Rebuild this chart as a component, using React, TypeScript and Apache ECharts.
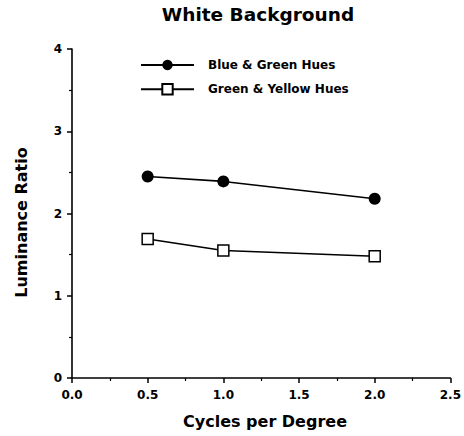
import React, { useEffect, useRef } from "react";
import * as echarts from "echarts";

const FONT = "'DejaVu Sans', 'Liberation Sans', sans-serif";

const cycles = [0.5, 1.0, 2.0];
const blueGreen = [2.45, 2.39, 2.18];
const greenYellow = [1.69, 1.55, 1.48];
const seriesNames = ["Blue & Green Hues", "Green & Yellow Hues"];

const pairs = (xs: number[], ys: number[]) => xs.map((x, i) => [x, ys[i]]);

export default function App() {
  const ref = useRef<HTMLDivElement>(null);

  useEffect(() => {
    if (!ref.current) return;
    const chart = echarts.init(ref.current, null, { renderer: "svg" });
    chart.setOption({
      animation: false,
      backgroundColor: "#ffffff",
      textStyle: { fontFamily: FONT },
      grid: { left: 72, right: 13, top: 49, bottom: 58 },
      legend: {
        orient: "vertical",
        left: 135,
        top: 54,
        itemWidth: 53,
        itemHeight: 13,
        itemGap: 12,
        textStyle: {
          fontFamily: FONT,
          fontWeight: "bold",
          fontSize: 12,
          color: "#000",
          padding: [0, 0, 0, 9],
        },
        data: seriesNames,
      },
      xAxis: {
        type: "value",
        min: 0,
        max: 2.5,
        interval: 0.5,
        axisLine: { show: true, lineStyle: { color: "#000", width: 1.6 } },
        axisTick: { show: true, inside: false, length: 5, lineStyle: { color: "#000", width: 1.5 } },
        minorTick: { show: true, splitNumber: 2, length: 3, lineStyle: { color: "#000", width: 1.2 } },
        splitLine: { show: false },
        axisLabel: {
          margin: 11,
          color: "#000",
          fontFamily: FONT,
          fontWeight: "bold",
          fontSize: 12,
          formatter: (v: number) => v.toFixed(1),
        },
      },
      yAxis: {
        type: "value",
        min: 0,
        max: 4,
        interval: 1,
        axisLine: { show: true, lineStyle: { color: "#000", width: 1.6 } },
        axisTick: { show: true, inside: false, length: 5, lineStyle: { color: "#000", width: 1.5 } },
        minorTick: { show: true, splitNumber: 2, length: 3, lineStyle: { color: "#000", width: 1.2 } },
        splitLine: { show: false },
        axisLabel: {
          margin: 10,
          color: "#000",
          fontFamily: FONT,
          fontWeight: "bold",
          fontSize: 12,
        },
      },
      graphic: [
        {
          type: "text",
          style: {
            text: "White Background",
            x: 258,
            y: 14.5,
            textAlign: "center",
            textVerticalAlign: "middle",
            font: `bold 18.5px ${FONT}`,
            fill: "#000",
          },
        },
        {
          type: "text",
          style: {
            text: "Cycles per Degree",
            x: 265,
            y: 421.5,
            textAlign: "center",
            textVerticalAlign: "middle",
            font: `bold 16px ${FONT}`,
            fill: "#000",
          },
        },
        {
          type: "text",
          x: 21.5,
          y: 222.5,
          rotation: Math.PI / 2,
          style: {
            text: "Luminance Ratio",
            x: 0,
            y: 0,
            textAlign: "center",
            textVerticalAlign: "middle",
            font: `bold 16px ${FONT}`,
            fill: "#000",
          },
        },
      ],
      series: [
        {
          name: seriesNames[0],
          type: "line",
          data: pairs(cycles, blueGreen),
          symbol: "circle",
          symbolSize: 12,
          lineStyle: { color: "#000", width: 1.6 },
          itemStyle: { color: "#000", borderColor: "#000", borderWidth: 0 },
        },
        {
          name: seriesNames[1],
          type: "line",
          data: pairs(cycles, greenYellow),
          symbol: "rect",
          symbolSize: 11,
          lineStyle: { color: "#000", width: 1.6 },
          itemStyle: { color: "#fff", borderColor: "#000", borderWidth: 1.5 },
        },
      ],
    });
    return () => chart.dispose();
  }, []);

  return <div ref={ref} style={{ width: 464, height: 436, position: "absolute", left: 0, top: 0 }} />;
}
